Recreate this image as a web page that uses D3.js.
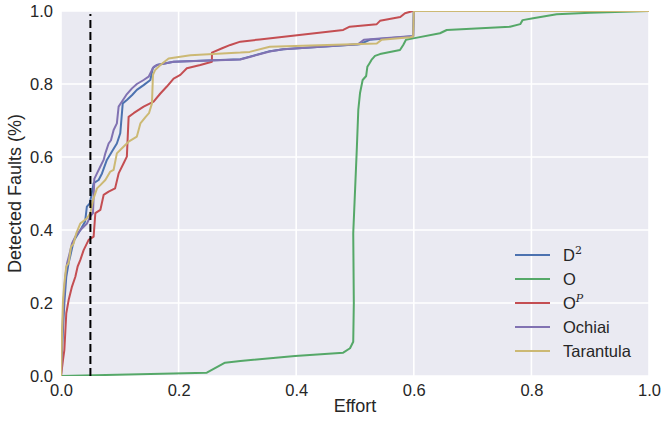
<!DOCTYPE html>
<html>
<head>
<meta charset="utf-8">
<script src="https://cdn.jsdelivr.net/npm/d3@7"></script>
<style>
  body { margin: 0; background: #fff; }
  text { font-family: Arial, "Liberation Sans", sans-serif; fill: #262626; }
</style>
</head>
<body>
<div id="chart"></div>
<script>
// effort / detected-faults pairs
const seriesD2 = [[0,0],[0.003,0.117],[0.006,0.208],[0.009,0.272],[0.013,0.31],[0.016,0.33],[0.0215,0.37],
  [0.033,0.40],[0.041,0.423],[0.044,0.464],[0.049,0.473],[0.0555,0.528],[0.064,0.537],[0.0697,0.555],
  [0.078,0.592],[0.0867,0.615],[0.095,0.637],[0.1008,0.665],[0.105,0.747],[0.112,0.756],[0.121,0.770],
  [0.129,0.784],[0.1405,0.797],[0.152,0.811],[0.156,0.843],[0.163,0.852],[0.1915,0.861],[0.305,0.868],
  [0.321,0.875],[0.355,0.89],[0.378,0.895],[0.508,0.909],[0.525,0.921],[0.594,0.93],[0.599,0.93],
  [0.6,1.0],[1,1]];
const seriesO = [[0,0],[0.248,0.009],[0.279,0.0365],[0.305,0.041],[0.398,0.055],[0.48,0.064],[0.4915,0.076],
  [0.497,0.094],[0.498,0.2],[0.497,0.391],[0.503,0.619],[0.5056,0.729],[0.5085,0.7745],[0.513,0.811],
  [0.519,0.822],[0.521,0.847],[0.524,0.855],[0.528,0.866],[0.534,0.877],[0.5425,0.882],[0.5765,0.893],
  [0.582,0.907],[0.5867,0.921],[0.599,0.925],[0.6445,0.939],[0.656,0.948],[0.7636,0.957],[0.781,0.964],
  [0.785,0.975],[0.803,0.98],[0.843,0.991],[0.8997,0.9955],[1,1]];
const seriesOP = [[0,0],[0.0034,0.044],[0.0057,0.071],[0.009,0.172],[0.013,0.208],[0.0187,0.245],[0.0244,0.272],
  [0.0283,0.30],[0.0329,0.318],[0.0385,0.345],[0.047,0.373],[0.0555,0.382],[0.0584,0.446],[0.0669,0.455],
  [0.0725,0.496],[0.081,0.505],[0.092,0.514],[0.098,0.555],[0.1065,0.583],[0.112,0.601],[0.115,0.71],
  [0.1235,0.72],[0.1405,0.738],[0.1575,0.752],[0.169,0.774],[0.180,0.793],[0.1915,0.815],[0.203,0.825],
  [0.214,0.843],[0.237,0.852],[0.2567,0.861],[0.2567,0.886],[0.274,0.898],[0.288,0.907],[0.305,0.916],
  [0.338,0.922],[0.48,0.948],[0.491,0.957],[0.537,0.964],[0.5425,0.973],[0.577,0.9835],[0.585,0.994],
  [0.594,0.998],[0.598,1.0],[1,1]];
const seriesOchiai = [[0,0],[0.0023,0.117],[0.0045,0.208],[0.0074,0.272],[0.0102,0.308],[0.0147,0.336],
  [0.0187,0.363],[0.0244,0.382],[0.0329,0.40],[0.0442,0.418],[0.0499,0.437],[0.0544,0.446],[0.0567,0.54],
  [0.0612,0.555],[0.0669,0.574],[0.0725,0.592],[0.0754,0.61],[0.081,0.637],[0.085,0.646],[0.0895,0.674],
  [0.095,0.692],[0.098,0.738],[0.1037,0.752],[0.111,0.77],[0.1207,0.788],[0.129,0.80],[0.1405,0.811],
  [0.149,0.82],[0.1575,0.847],[0.163,0.852],[0.1915,0.861],[0.305,0.867],[0.321,0.874],[0.355,0.889],
  [0.378,0.895],[0.505,0.909],[0.515,0.921],[0.594,0.931],[0.599,0.931],[0.6,1.0],[1,1]];
const seriesTarantula = [[0,0],[0.0017,0.117],[0.0034,0.208],[0.0057,0.254],[0.009,0.30],[0.013,0.31],
  [0.017,0.354],[0.0215,0.363],[0.026,0.391],[0.0329,0.418],[0.0442,0.432],[0.0499,0.446],[0.0544,0.482],
  [0.0612,0.514],[0.0669,0.523],[0.0754,0.537],[0.0839,0.56],[0.0895,0.565],[0.095,0.61],[0.1037,0.624],
  [0.115,0.642],[0.129,0.656],[0.135,0.692],[0.144,0.71],[0.1496,0.72],[0.1547,0.747],[0.1564,0.825],
  [0.160,0.838],[0.169,0.852],[0.183,0.87],[0.22,0.879],[0.305,0.886],[0.321,0.888],[0.355,0.902],
  [0.537,0.911],[0.545,0.921],[0.594,0.928],[0.599,0.93],[0.6,1.0],[1,1]];

const seriesNames = ["D2", "O", "OP", "Ochiai", "Tarantula"];
const seriesData = [seriesD2, seriesO, seriesOP, seriesOchiai, seriesTarantula];
const colors = ["#4C72B0", "#55A868", "#C44E52", "#8172B2", "#CCB974"];
const xTicks = [0, 0.2, 0.4, 0.6, 0.8, 1.0];
const yTicks = [0, 0.2, 0.4, 0.6, 0.8, 1.0];
const cutoff = 0.05;

const width = 662, height = 424;
const margin = {left: 61, right: 13, top: 11, bottom: 48};
const fontFam = "Arial, 'Liberation Sans', sans-serif";

const svg = d3.select("#chart").append("svg")
    .attr("width", width)
    .attr("height", height);

const x = d3.scaleLinear().domain([0, 1]).range([margin.left, width - margin.right]);
const y = d3.scaleLinear().domain([0, 1]).range([height - margin.bottom, margin.top]);

// axes background
svg.append("rect")
    .attr("x", x(0)).attr("y", y(1))
    .attr("width", x(1) - x(0)).attr("height", y(0) - y(1))
    .attr("fill", "#EAEAF2");

svg.append("clipPath").attr("id", "plotclip")
  .append("rect")
    .attr("x", x(0)).attr("y", y(1))
    .attr("width", x(1) - x(0)).attr("height", y(0) - y(1));

// grid
let grid = svg.append("g").attr("stroke", "#fff").attr("stroke-width", 1.6);
xTicks.forEach(function(t) {
    grid.append("line").attr("x1", x(t)).attr("x2", x(t)).attr("y1", y(0)).attr("y2", y(1));
});
yTicks.forEach(function(t) {
    grid.append("line").attr("x1", x(0)).attr("x2", x(1)).attr("y1", y(t)).attr("y2", y(t));
});

// axes, labels only
let xAxis = d3.axisBottom(x).tickValues(xTicks).tickFormat(d3.format(".1f")).tickSize(0).tickPadding(8);
let yAxis = d3.axisLeft(y).tickValues(yTicks).tickFormat(d3.format(".1f")).tickSize(0).tickPadding(8);
svg.append("g")
    .attr("transform", "translate(0," + y(0) + ")")
    .call(xAxis)
    .call(g => g.select(".domain").remove())
    .selectAll("text").attr("font-size", 16.5).attr("fill", "#262626").attr("font-family", fontFam);
svg.append("g")
    .attr("transform", "translate(" + x(0) + ",0)")
    .call(yAxis)
    .call(g => g.select(".domain").remove())
    .selectAll("text").attr("font-size", 16.5).attr("fill", "#262626").attr("font-family", fontFam);

svg.append("text")
    .attr("x", (x(0) + x(1)) / 2).attr("y", 412)
    .attr("text-anchor", "middle").attr("font-size", 18)
    .text("Effort");
svg.append("text")
    .attr("transform", "translate(21," + (y(0) + y(1)) / 2 + ") rotate(-90)")
    .attr("text-anchor", "middle").attr("font-size", 18)
    .text("Detected Faults (%)");

// series
let line = d3.line()
    .x(function(d) { return x(d[0]); })
    .y(function(d) { return y(d[1]); });
let plotG = svg.append("g").attr("clip-path", "url(#plotclip)");
seriesData.forEach(function(data, i) {
    plotG.append("path")
        .datum(data)
        .attr("fill", "none")
        .attr("stroke", colors[i])
        .attr("stroke-width", 2)
        .attr("stroke-linejoin", "round")
        .attr("d", line);
});

// effort cut-off
plotG.append("line")
    .attr("x1", x(cutoff)).attr("x2", x(cutoff))
    .attr("y1", y(0)).attr("y2", y(1) + 3)
    .attr("stroke", "#000").attr("stroke-width", 2)
    .attr("stroke-dasharray", "8,4");

// legend
let legend = svg.append("g");
seriesNames.forEach(function(name, i) {
    let ly = 255 + i * 24;
    legend.append("line")
        .attr("x1", 515).attr("x2", 550).attr("y1", ly).attr("y2", ly)
        .attr("stroke", colors[i]).attr("stroke-width", 2);
    let t = legend.append("text").attr("x", 563).attr("y", ly + 6).attr("font-size", 16.5);
    if (name === "D2") {
        t.append("tspan").text("D");
        t.append("tspan").attr("font-family", "'DejaVu Serif', serif").attr("font-size", 11).attr("dy", -7).text("2");
    } else if (name === "OP") {
        t.append("tspan").text("O");
        t.append("tspan").attr("font-family", "'DejaVu Serif', serif").attr("font-style", "italic")
            .attr("font-size", 11).attr("dy", -7).text("P");
    } else {
        t.text(name);
    }
});
</script>
</body>
</html>
